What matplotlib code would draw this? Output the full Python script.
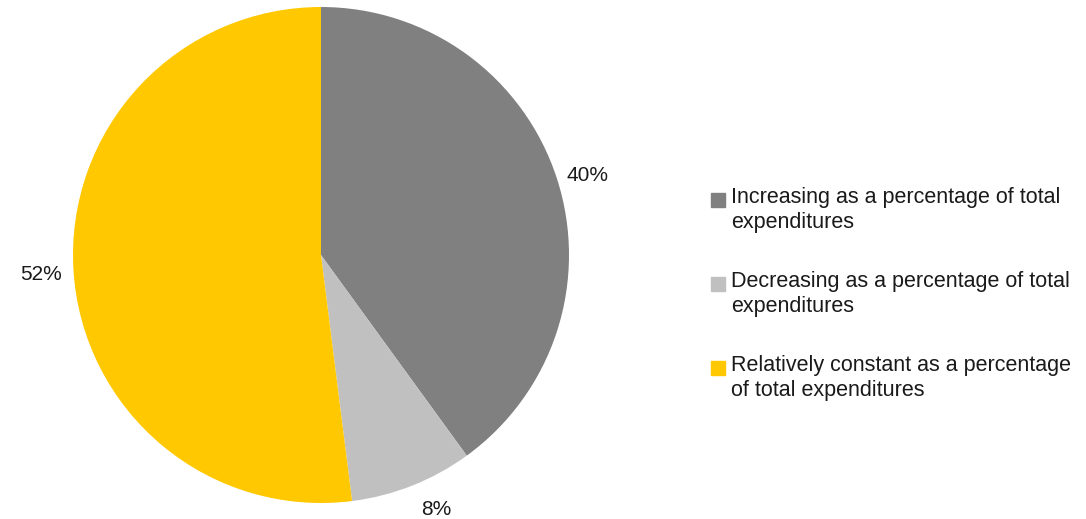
import matplotlib
matplotlib.use("Agg")
import matplotlib.pyplot as plt
import matplotlib.transforms as mtransforms

plt.rcParams['font.family'] = ['Liberation Sans', 'DejaVu Sans']

labels = ["Increasing as a percentage of total\nexpenditures",
          "Decreasing as a percentage of total\nexpenditures",
          "Relatively constant as a percentage\nof total expenditures"]
values = [40, 8, 52]
colors = ['#808080', '#c0c0c0', '#ffc800']
txt_color = '#1a1a1a'

fig = plt.figure(figsize=(10.86, 5.19), dpi=100)
# pie area in pixels: centre (321,255), radius ~248
ax = fig.add_axes([73/1086, 16/519, 496/1086, 496/519])
wedges, texts, autotexts = ax.pie(values, colors=colors, startangle=90, counterclock=False,
                                  autopct='%.0f%%', pctdistance=1.13,
                                  wedgeprops=dict(linewidth=0),
                                  textprops=dict(fontsize=15, color=txt_color))
ax.set_xlim(-1, 1)
ax.set_ylim(-1, 1)
ax.set_aspect('equal')

# small nudges so the labels sit like the excel "outside end" ones
nudges = [(0, -7), (12, 6), (0, -2)]
for t, (dx, dy) in zip(autotexts, nudges):
    t.set_transform(ax.transData + mtransforms.ScaledTranslation(dx/100, dy/100, fig.dpi_scale_trans))

# legend drawn by hand so the square sits next to the first line
y0 = 1 - 187/519
for i, (lab, c) in enumerate(zip(labels, colors)):
    y = y0 - i * 84/519
    fig.patches.append(plt.Rectangle((711/1086, y - 20/519), 14/1086, 14/519,
                                     transform=fig.transFigure, color=c, figure=fig))
    fig.text(731/1086, y, lab, fontsize=15.5, color=txt_color, va='top', ha='left',
             linespacing=1.26, transform=fig.transFigure)
fig.savefig("out.png", dpi=100)
